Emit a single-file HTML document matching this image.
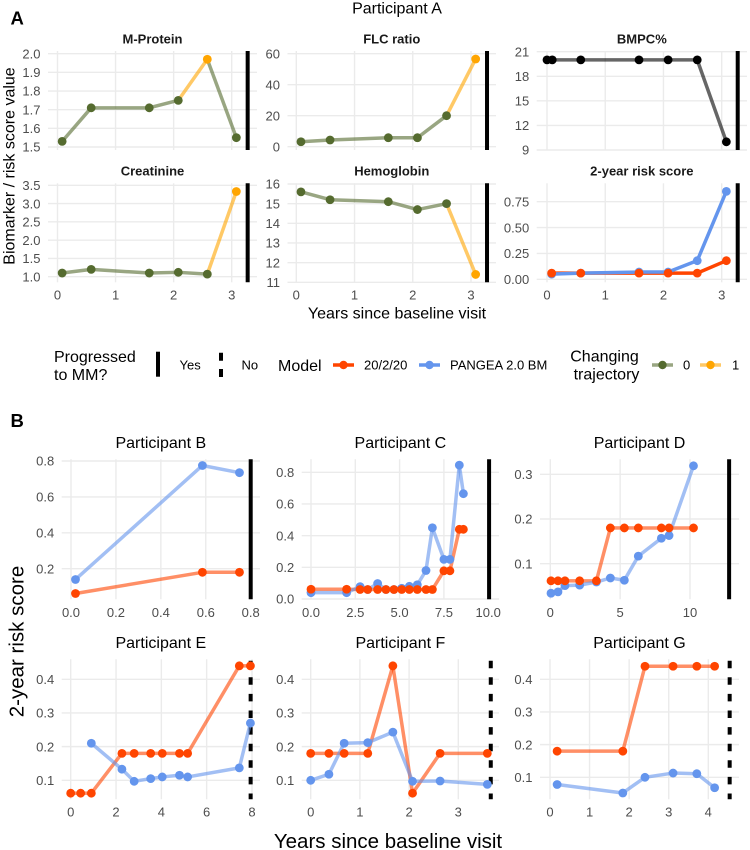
<!DOCTYPE html>
<html lang="en">
<head>
<meta charset="utf-8">
<title>Participant biomarker and risk score trajectories</title>
<style>
  html, body { margin: 0; padding: 0; background: #ffffff; }
  svg { display: block; font-family: "Liberation Sans", sans-serif; }
</style>
</head>
<body>
<svg id="chart" xmlns="http://www.w3.org/2000/svg" width="750" height="850" viewBox="0 0 750 850">
  <rect x="0" y="0" width="750" height="850" fill="#ffffff"/>
  <text x="10.5" y="24.3" font-size="18.5" font-weight="700" fill="#000">A</text>
  <text x="10.5" y="427" font-size="18.5" font-weight="700" fill="#000">B</text>
  <text x="397" y="13.5" font-size="16" text-anchor="middle" fill="#000">Participant A</text>
  <text transform="translate(14.5,166) rotate(-90)" font-size="16" text-anchor="middle" fill="#000">Biomarker / risk score value</text>
  <text x="397" y="318.5" font-size="16" text-anchor="middle" fill="#000">Years since baseline visit</text>
  <text transform="translate(23.5,641.5) rotate(-90)" font-size="20.5" text-anchor="middle" fill="#000">2-year risk score</text>
  <text x="388" y="848" font-size="20.5" text-anchor="middle" fill="#000">Years since baseline visit</text>

  <g>
    <g>
      <text x="54" y="362" font-size="16" fill="#000">Progressed</text>
      <text x="54" y="380" font-size="16" fill="#000">to MM?</text>
      <line x1="158" y1="351.7" x2="158" y2="376.7" stroke="#000" stroke-width="4"/>
      <text x="179.5" y="369.5" font-size="13" fill="#000">Yes</text>
      <line x1="221" y1="352.7" x2="221" y2="377" stroke="#000" stroke-width="4" stroke-dasharray="8 8.3"/>
      <text x="241.5" y="369.5" font-size="13" fill="#000">No</text>
    </g>
    <g>
      <text x="278" y="371" font-size="16" fill="#000">Model</text>
      <line x1="333" y1="365" x2="354" y2="365" stroke="#FF4500" stroke-width="3.5"/>
      <circle cx="343.5" cy="365" r="4.2" fill="#FF4500"/>
      <text x="364" y="369.5" font-size="13" fill="#000">20/2/20</text>
      <line x1="419" y1="365" x2="440" y2="365" stroke="#6495ED" stroke-width="3.5"/>
      <circle cx="429.5" cy="365" r="4.2" fill="#6495ED"/>
      <text x="450" y="369.5" font-size="13" fill="#000">PANGEA 2.0 BM</text>
    </g>
    <g>
      <text x="604.5" y="361.5" font-size="16" text-anchor="middle" fill="#000">Changing</text>
      <text x="606.5" y="379.5" font-size="16" text-anchor="middle" fill="#000">trajectory</text>
      <line x1="652" y1="365" x2="673" y2="365" stroke="#556B2F" stroke-opacity="0.6" stroke-width="3.5"/>
      <circle cx="662.5" cy="365" r="4.2" fill="#556B2F"/>
      <text x="683" y="369.5" font-size="13" fill="#000">0</text>
      <line x1="700" y1="365" x2="721" y2="365" stroke="#FFA500" stroke-opacity="0.6" stroke-width="3.5"/>
      <circle cx="710.5" cy="365" r="4.2" fill="#FFA500"/>
      <text x="732" y="369.5" font-size="13" fill="#000">1</text>
    </g>
  </g>
  <g id="panels"></g>
</svg>

<script>
// ---- Panel A data ----
const visitYearsA = [0.08, 0.58, 1.58, 2.08, 2.58, 3.08];
const bmpcYears = [0, 0.09, 0.58, 1.58, 2.08, 2.58, 3.08];
const mProteinValues = [1.53, 1.71, 1.71, 1.75, 1.97, 1.55];
const mProteinChanging = [0, 0, 0, 0, 1, 0];
const flcRatioValues = [3.2, 4.3, 5.8, 5.8, 20, 56.6];
const flcRatioChanging = [0, 0, 0, 0, 0, 1];
const bmpcValues = [20, 20, 20, 20, 20, 20, 10];
const creatinineValues = [1.1, 1.2, 1.1, 1.12, 1.07, 3.33];
const creatinineChanging = [0, 0, 0, 0, 0, 1];
const hemoglobinValues = [15.6, 15.2, 15.1, 14.7, 15.0, 11.4];
const hemoglobinChanging = [0, 0, 0, 0, 0, 1];
const riskARed = [0.06, 0.06, 0.06, 0.06, 0.06, 0.18];
const riskABlue = [0.05, 0.06, 0.07, 0.07, 0.18, 0.85];

// ---- Panel B data ----
const yearsB = [0.02, 0.585, 0.75];
const bRed = [0.0617, 0.18, 0.18];
const bBlue = [0.14, 0.775, 0.735];

const yearsC = [0, 2.01, 2.77, 3.2, 3.76, 4.23, 4.68, 5.12, 5.55, 6.0, 6.49, 6.85, 7.5, 7.84, 8.37, 8.6];
const cRed = [0.0617, 0.0617, 0.06, 0.06, 0.06, 0.06, 0.06, 0.06, 0.06, 0.06, 0.06, 0.06, 0.178, 0.178, 0.44, 0.44];
const cBlue = [0.04, 0.04, 0.078, 0.06, 0.098, 0.06, 0.06, 0.068, 0.08, 0.09, 0.18, 0.45, 0.25, 0.25, 0.845, 0.665];

const yearsD = [0.05, 0.55, 1.05, 2.1, 3.3, 4.3, 5.3, 6.3, 7.95, 8.5, 10.25];
const dRed = [0.0617, 0.0617, 0.0617, 0.0617, 0.0617, 0.18, 0.18, 0.18, 0.18, 0.18, 0.18];
const dBlue = [0.034, 0.037, 0.051, 0.052, 0.059, 0.068, 0.063, 0.117, 0.157, 0.163, 0.319];

const yearsERed = [0, 0.44, 0.91, 2.26, 2.8, 3.53, 4.04, 4.8, 5.16, 7.44, 7.93];
const eRed = [0.0617, 0.0617, 0.0617, 0.18, 0.18, 0.18, 0.18, 0.18, 0.18, 0.44, 0.44];
const yearsEBlue = [0.91, 2.26, 2.8, 3.53, 4.04, 4.8, 5.16, 7.44, 7.93];
const eBlue = [0.21, 0.133, 0.097, 0.105, 0.11, 0.115, 0.11, 0.137, 0.27];

const yearsF = [0, 0.37, 0.68, 1.16, 1.67, 2.07, 2.63, 3.59];
const fRed = [0.18, 0.18, 0.18, 0.18, 0.44, 0.0617, 0.18, 0.18];
const fBlue = [0.1, 0.118, 0.21, 0.212, 0.243, 0.097, 0.098, 0.088];

const yearsG = [0.18, 1.84, 2.4, 3.11, 3.71, 4.16];
const gRed = [0.18, 0.18, 0.44, 0.44, 0.44, 0.44];
const gBlue = [0.078, 0.052, 0.1, 0.113, 0.111, 0.068];

// ---- Tick labels ----
const yearTicksA = ['0', '1', '2', '3'];
const mProteinTicks = ['1.5', '1.6', '1.7', '1.8', '1.9', '2.0'];
const flcRatioTicks = ['0', '20', '40', '60'];
const bmpcTicks = ['9', '12', '15', '18', '21'];
const creatinineTicks = ['1.0', '1.5', '2.0', '2.5', '3.0', '3.5'];
const hemoglobinTicks = ['11', '12', '13', '14', '15', '16'];
const riskATicks = ['0.00', '0.25', '0.50', '0.75'];
const bXTicks = ['0.0', '0.2', '0.4', '0.6', '0.8'];
const bYTicks = ['0.2', '0.4', '0.6', '0.8'];
const cXTicks = ['0.0', '2.5', '5.0', '7.5', '10.0'];
const cYTicks = ['0.0', '0.2', '0.4', '0.6', '0.8'];
const dXTicks = ['0', '5', '10'];
const dYTicks = ['0.1', '0.2', '0.3'];
const eXTicks = ['0', '2', '4', '6', '8'];
const fXTicks = ['0', '1', '2', '3'];
const gXTicks = ['0', '1', '2', '3', '4'];
const lowerYTicks = ['0.1', '0.2', '0.3', '0.4'];

// ---- Progression marker (year of vertical line) ----
const progressionYearA = 3.275;
const progressionYearB = 0.8;
const progressionYearC = 10.05;
const progressionYearD = 12.8;
const progressionYearE = 7.94;
const progressionYearF = 3.66;
const progressionYearG = 4.54;

const RED = '#FF4500', BLUE = '#6495ED', GREEN = '#556B2F', ORANGE = '#FFA500';

function riskSeries(yearsRed, red, yearsBlue, blue, lineAlpha) {
  return [
    { name: 'pangea', years: yearsBlue, values: blue, color: BLUE, lineAlpha: lineAlpha },
    { name: 'twenty-two-twenty', years: yearsRed, values: red, color: RED, lineAlpha: lineAlpha }
  ];
}
function biomarkerSeries(values, flags) {
  return [{ name: 'biomarker', years: visitYearsA, values: values, flags: flags, color: GREEN, lineAlpha: 0.6 }];
}

const panels = [
  { id: 'm-protein', title: 'M-Protein', bold: true, box: [48, 257, 51, 150], titleY: 43.3, xCal: [57.5, 0, 231.7, 3], yCal: [147, 1.5, 53.7, 2.0],
    xTicks: yearTicksA, yTicks: mProteinTicks, showX: false, series: biomarkerSeries(mProteinValues, mProteinChanging), bar: progressionYearA, dashed: false },
  { id: 'flc-ratio', title: 'FLC ratio', bold: true, box: [287.5, 496, 51, 150], titleY: 43.3, xCal: [296.3, 0, 471, 3], yCal: [146.7, 0, 53.7, 60],
    xTicks: yearTicksA, yTicks: flcRatioTicks, showX: false, series: biomarkerSeries(flcRatioValues, flcRatioChanging), bar: progressionYearA, dashed: false },
  { id: 'bmpc', title: 'BMPC%', bold: true, box: [536.7, 747, 51, 150], titleY: 43.3, xCal: [547, 0, 721.7, 3], yCal: [150, 9, 51.7, 21],
    xTicks: yearTicksA, yTicks: bmpcTicks, showX: false,
    series: [{ name: 'bmpc', years: bmpcYears, values: bmpcValues, color: '#000000', lineAlpha: 0.6 }], bar: progressionYearA, dashed: false },
  { id: 'creatinine', title: 'Creatinine', bold: true, box: [48, 257, 183.3, 282.3], titleY: 175.6, xCal: [57.5, 0, 231.7, 3], yCal: [276.7, 1.0, 185.3, 3.5],
    xTicks: yearTicksA, yTicks: creatinineTicks, showX: true, series: biomarkerSeries(creatinineValues, creatinineChanging), bar: progressionYearA, dashed: false, xLabelY: 299.7 },
  { id: 'hemoglobin', title: 'Hemoglobin', bold: true, box: [287.5, 496, 183.3, 282.3], titleY: 175.6, xCal: [296.3, 0, 471, 3], yCal: [282.3, 11, 184, 16],
    xTicks: yearTicksA, yTicks: hemoglobinTicks, showX: true, series: biomarkerSeries(hemoglobinValues, hemoglobinChanging), bar: progressionYearA, dashed: false, xLabelY: 299.7 },
  { id: 'risk-score', title: '2-year risk score', bold: true, box: [536.7, 747, 183.3, 282.3], titleY: 175.6, xCal: [547, 0, 721.7, 3], yCal: [279.3, 0, 201.7, 0.75],
    xTicks: yearTicksA, yTicks: riskATicks, showX: true, series: riskSeries(visitYearsA, riskARed, visitYearsA, riskABlue, 1), bar: progressionYearA, dashed: false, xLabelY: 299.7 },
  { id: 'participant-b', title: 'Participant B', bold: false, box: [61.7, 260, 459.3, 599.3], titleY: 447.8, xCal: [71, 0, 250.7, 0.8], yCal: [568.7, 0.2, 461, 0.8],
    xTicks: bXTicks, yTicks: bYTicks, showX: true, series: riskSeries(yearsB, bRed, yearsB, bBlue, 0.6), bar: progressionYearB, dashed: false, xLabelY: 617 },
  { id: 'participant-c', title: 'Participant C', bold: false, box: [301.7, 499, 459.3, 599.3], titleY: 447.8, xCal: [311, 0, 488.2, 10], yCal: [599, 0, 472.3, 0.8],
    xTicks: cXTicks, yTicks: cYTicks, showX: true, series: riskSeries(yearsC, cRed, yearsC, cBlue, 0.6), bar: progressionYearC, dashed: false, xLabelY: 617 },
  { id: 'participant-d', title: 'Participant D', bold: false, box: [540, 739, 459.3, 599.3], titleY: 447.8, xCal: [550.3, 0, 690, 10], yCal: [563.7, 0.1, 474.3, 0.3],
    xTicks: dXTicks, yTicks: dYTicks, showX: true, series: riskSeries(yearsD, dRed, yearsD, dBlue, 0.6), bar: progressionYearD, dashed: false, xLabelY: 617 },
  { id: 'participant-e', title: 'Participant E', bold: false, box: [61.7, 260, 659.3, 799.3], titleY: 647.8, xCal: [70.7, 0, 252, 8], yCal: [780.3, 0.1, 679.3, 0.4],
    xTicks: eXTicks, yTicks: lowerYTicks, showX: true, series: riskSeries(yearsERed, eRed, yearsEBlue, eBlue, 0.6), bar: progressionYearE, dashed: true, xLabelY: 816.7 },
  { id: 'participant-f', title: 'Participant F', bold: false, box: [301.7, 499, 659.3, 799.3], titleY: 647.8, xCal: [310.7, 0, 458.3, 3], yCal: [780.3, 0.1, 679.3, 0.4],
    xTicks: fXTicks, yTicks: lowerYTicks, showX: true, series: riskSeries(yearsF, fRed, yearsF, fBlue, 0.6), bar: progressionYearF, dashed: true, xLabelY: 816.7 },
  { id: 'participant-g', title: 'Participant G', bold: false, box: [540, 739, 659.3, 799.3], titleY: 647.8, xCal: [550, 0, 708.3, 4], yCal: [777.3, 0.1, 679.3, 0.4],
    xTicks: gXTicks, yTicks: lowerYTicks, showX: true, series: riskSeries(yearsG, gRed, yearsG, gBlue, 0.6), bar: progressionYearG, dashed: true, xLabelY: 816.7 }
];

const SVG_NS = 'http://www.w3.org/2000/svg';
const root = document.getElementById('panels');
const LINE_WIDTH = 3.5;
const POINT_RADIUS = 4.4;
const GRID_WIDTH = 1.4;

function linearScale(cal) {
  const slope = (cal[2] - cal[0]) / (cal[3] - cal[1]);
  return function (v) { return cal[0] + (v - cal[1]) * slope; };
}
function svgEl(parent, tag, attrs) {
  const el = document.createElementNS(SVG_NS, tag);
  for (const k in attrs) el.setAttribute(k, attrs[k]);
  parent.appendChild(el);
  return el;
}

panels.forEach(function (p) {
  const left = p.box[0], right = p.box[1], top = p.box[2], bottom = p.box[3];
  const xAxis = linearScale(p.xCal);
  const yAxis = linearScale(p.yCal);

  const g = svgEl(root, 'g', {});
  
  

  const title = svgEl(g, 'text', { x: (left + right) / 2, y: p.titleY, 'font-size': p.bold ? 13 : 16,
    'font-weight': p.bold ? 700 : 400, 'text-anchor': 'middle', fill: p.bold ? '#1a1a1a' : '#000' });
  
  
  title.textContent = p.title;

  p.yTicks.forEach(function (label) {
    const y = yAxis(Number(label));
    const grid = svgEl(g, 'line', { x1: left, x2: right, y1: y, y2: y, stroke: '#EBEBEB', 'stroke-width': GRID_WIDTH });
    
    
    const tick = svgEl(g, 'text', { x: left - 7.5, y: y + 4.7, 'font-size': 13, 'text-anchor': 'end', fill: '#4D4D4D' });
    
    
    tick.textContent = label;
  });

  p.xTicks.forEach(function (label) {
    const x = xAxis(Number(label));
    const grid = svgEl(g, 'line', { x1: x, x2: x, y1: top, y2: bottom, stroke: '#EBEBEB', 'stroke-width': GRID_WIDTH });
    
    
    if (p.showX) {
      const tick = svgEl(g, 'text', { x: x, y: p.xLabelY, 'font-size': 13, 'text-anchor': 'middle', fill: '#4D4D4D' });
      
      
      tick.textContent = label;
    }
  });

  const barX = xAxis(p.bar);
  const barAttrs = { x1: barX, x2: barX, y1: p.dashed ? top + 1.4 : top, y2: bottom, stroke: '#000', 'stroke-width': 4 };
  if (p.dashed) barAttrs['stroke-dasharray'] = '7.5 9.1';
  const bar = svgEl(g, 'line', barAttrs);
  
  

  p.series.slice().reverse().forEach(function (s) {
    for (let i = 1; i < s.years.length; i++) {
      const changing = s.flags && s.flags[i] === 1;
      const seg = svgEl(g, 'line', { x1: xAxis(s.years[i - 1]), y1: yAxis(s.values[i - 1]), x2: xAxis(s.years[i]), y2: yAxis(s.values[i]),
        stroke: changing ? ORANGE : s.color, 'stroke-opacity': s.lineAlpha, 'stroke-width': LINE_WIDTH });
      
      
    }
  });

  p.series.forEach(function (s) {
    s.years.forEach(function (yr, i) {
      const changing = s.flags && s.flags[i] === 1;
      const pt = svgEl(g, 'circle', { cx: xAxis(yr), cy: yAxis(s.values[i]), r: POINT_RADIUS, fill: changing ? ORANGE : s.color });
      
      
    });
  });
});
</script>
</body>
</html>
